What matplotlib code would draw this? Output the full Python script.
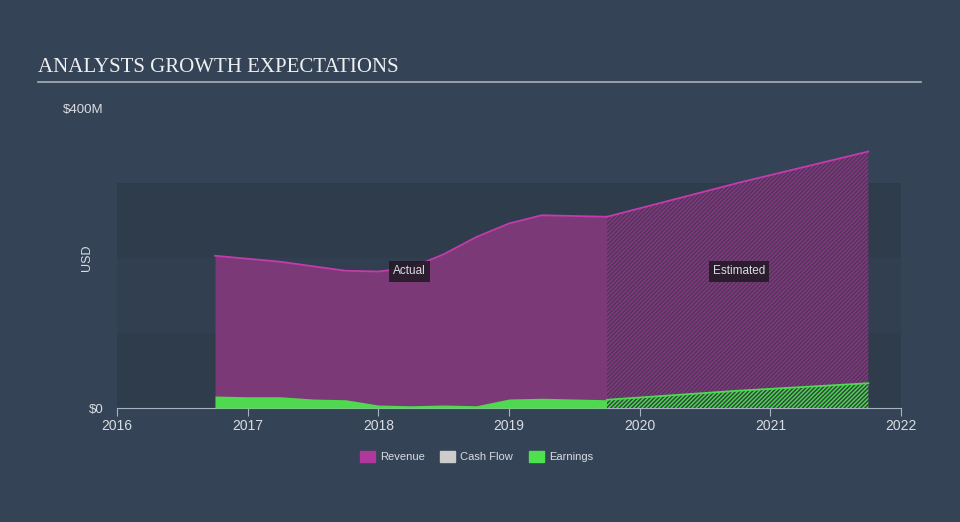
import matplotlib
matplotlib.use("Agg")
import matplotlib.pyplot as plt

# Revenue and earnings (USD millions), actual and analyst estimates
act_years = [2016.75, 2017.0, 2017.25, 2017.5, 2017.75, 2018.0, 2018.25, 2018.5, 2018.75, 2019.0, 2019.25, 2019.75]
act_revenue = [203, 199, 195, 189, 183, 182, 187, 205, 228, 246, 257, 255]
act_earnings = [16, 15, 15, 12, 11, 4, 3, 4, 3, 12, 13, 11]

est_years = [2019.75, 2020.75, 2021.75]
est_revenue = [255, 300, 342]
est_earnings = [11, 23, 33]

year_ticks = [2016, 2017, 2018, 2019, 2020, 2021, 2022]
bands = [(0, 100), (200, 300)]
mid_band = (100, 200)

bg = "#344355"
rev_fill = "#7b3a77"
rev_line = "#c43bad"
earn_col = "#4fd94f"
txt = "#d9dde3"

plt.rcParams["font.family"] = ["Liberation Sans", "DejaVu Sans"]
plt.rcParams["hatch.linewidth"] = 1.0

fig = plt.figure(figsize=(9.6, 5.22), dpi=100, facecolor=bg)
ax = fig.add_axes([117 / 960, (522 - 408) / 522, 784 / 960, 300 / 522])
ax.set_facecolor(bg)

for lo, hi in bands:
    ax.axhspan(lo, hi, color="#2e3c4b", lw=0, zorder=0)
ax.axhspan(*mid_band, color="#313f50", lw=0, zorder=0)

# actual
ax.fill_between(act_years, 0, act_revenue, color=rev_fill, lw=0, zorder=2)
ax.plot(act_years, act_revenue, color=rev_line, lw=1.3, zorder=4)
ax.fill_between(act_years, 0, act_earnings, color=earn_col, lw=0, zorder=3)

# estimated, hatched
ax.fill_between(est_years, 0, est_revenue, facecolor="#52355c", edgecolor="#85397f",
                hatch="////////", lw=0, zorder=2)
ax.plot(est_years, est_revenue, color=rev_line, lw=1.3, zorder=4)
ax.fill_between(est_years, 0, est_earnings, facecolor="#2f4a40", edgecolor="#4fd94f",
                hatch="////////", lw=0, zorder=3)
ax.plot(est_years, est_earnings, color=earn_col, lw=1.3, zorder=4)

ax.set_xlim(2016, 2022)
ax.set_ylim(0, 400)
ax.set_xticks(year_ticks)
ax.set_xticklabels([str(y) for y in year_ticks], color=txt, fontsize=10)
ax.set_yticks([0, 400])
ax.set_yticklabels(["$0", "$400M"], color=txt, fontsize=9.5)
ax.tick_params(axis="y", length=0, pad=9.5)
ax.tick_params(axis="x", length=6, color="#a8b3c0", pad=2)
for s in ["top", "right", "left"]:
    ax.spines[s].set_visible(False)
ax.spines["bottom"].set_color("#a8b3c0")
ax.set_ylabel("USD", color=txt, fontsize=9)
ax.yaxis.set_label_coords(-24 / 784, 0.5)

box = dict(boxstyle="square,pad=0.35", fc="#241a28", ec="none", alpha=0.9)
ax.text(2018.24, 182, "Actual", color=txt, fontsize=8.5, ha="center", va="center", bbox=box, zorder=6)
ax.text(2020.76, 182, "Estimated", color=txt, fontsize=8.5, ha="center", va="center", bbox=box, zorder=6)

# title and rule
fig.text(38 / 960, 1 - 67 / 522, "ANALYSTS GROWTH EXPECTATIONS", family="Liberation Serif",
         fontsize=15, color="#eef0f2", va="center", ha="left")
fig.add_artist(plt.Line2D([38 / 960, 921 / 960], [1 - 81.5 / 522] * 2, color="#a9b0b8", lw=1.2))

# legend
items = [("Revenue", "#b0379c", 360), ("Cash Flow", "#cccccc", 440), ("Earnings", "#4fe04f", 529)]
for label, col, x0 in items:
    fig.patches.append(plt.Rectangle((x0 / 960, 1 - 462 / 522), 15 / 960, 11 / 522,
                                     transform=fig.transFigure, color=col))
    fig.text((x0 + 20) / 960, 1 - 456.5 / 522, label, color=txt, fontsize=8, va="center")

fig.savefig("out.png", dpi=100, facecolor=bg)
